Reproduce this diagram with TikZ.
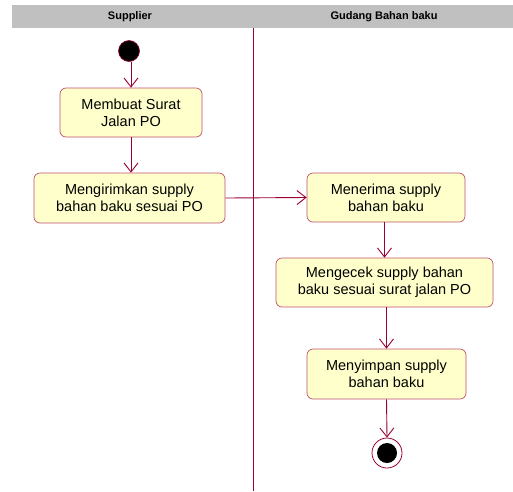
\documentclass[tikz,border=0pt]{standalone}
\usepackage{fontspec}
\setmainfont{Liberation Sans}
\usetikzlibrary{arrows.meta}
\definecolor{edgec}{HTML}{990033}
\definecolor{boxb}{HTML}{C05070}
\definecolor{boxf}{HTML}{FFFFCC}
\definecolor{hdr}{HTML}{C0C0C0}
\begin{document}
\begin{tikzpicture}[x=1pt,y=-1pt,
  act/.style={draw=boxb, fill=boxf, rounded corners=6pt, line width=0.7pt, align=center,
    font=\fontsize{14.5}{18}\selectfont, inner sep=0pt},
  flow/.style={draw=edgec, line width=0.9pt, -{Straight Barb[length=9pt,width=14pt,line width=0.9pt]}},
  hdrtext/.style={font=\bfseries\fontsize{11}{13}\selectfont}]
\useasboundingbox (0,0) rectangle (513,491);
\fill[hdr] (12,5) rectangle (513,28);
\node[hdrtext] (h1) at (130,16.5) {Supplier};
\node[hdrtext] (h2) at (384,16.5) {Gudang Bahan baku};
\coordinate (lt) at (253.5,28);
\coordinate (lb) at (253.5,491);
\draw[edgec, line width=0.9pt] (lt) -- (lb);

\node[circle, fill=black, draw=edgec, line width=0.6pt, minimum size=21pt, inner sep=0pt] (start) at (129,51) {};
\node[act, minimum width=142pt, minimum height=49pt] (a1) at (131,112.5) {Membuat Surat\\[-1pt]Jalan PO};
\node[act, minimum width=191pt, minimum height=50pt] (a2) at (129.5,198) {Mengirimkan supply\\[-1pt]bahan baku sesuai PO};
\node[act, minimum width=158pt, minimum height=49pt] (a3) at (386,197.5) {Menerima supply\\[-1pt]bahan baku};
\node[act, minimum width=217pt, minimum height=49pt] (a4) at (384.5,282.5) {Mengecek supply bahan\\[-1pt]baku sesuai surat jalan PO};
\node[act, minimum width=159pt, minimum height=50pt] (a5) at (386.5,374) {Menyimpan supply\\[-1pt]bahan baku};
\node[circle, draw=edgec, fill=white, line width=0.8pt, minimum size=30pt, inner sep=0pt] (end) at (387,453) {};
\node[circle, fill=black, minimum size=20pt, inner sep=0pt] (endin) at (end.center) {};

\draw[flow] (a1.north |- start.south) -- (a1.north);
\draw[flow] (a1.south) -- (a1.south |- a2.north);
\draw[flow] (a2.east) -- (a3.west);
\draw[flow] (a4.north |- a3.south) -- (a4.north);
\draw[flow] (a5.north |- a4.south) -- (a5.north);
\draw[flow] (a5.south) -- (end.north);
\end{tikzpicture}
\end{document}
